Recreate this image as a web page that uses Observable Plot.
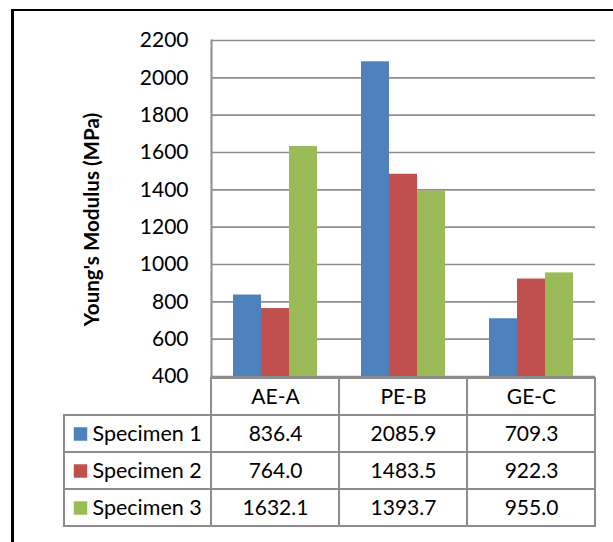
<!DOCTYPE html>
<html>
<head>
<meta charset="utf-8">
<script src="https://cdn.jsdelivr.net/npm/d3@7"></script>
<script src="https://cdn.jsdelivr.net/npm/@observablehq/plot@0.6"></script>
<style>
  body { margin: 0; background: #fff; }
  #wrap { position: relative; width: 613px; height: 542px; overflow: hidden; background: #fff; }
  #frame { position: absolute; left: 11px; top: 9px; width: 700px; height: 700px;
           border-left: 3px solid #000; border-top: 2px solid #000; }
  #wrap svg { position: absolute; left: 0; top: 0; background: transparent; }
</style>
</head>
<body>
<div id="wrap"><div id="frame"></div></div>
<script>
// ---- data ----
const categories = ["AE-A", "PE-B", "GE-C"];
const seriesNames = ["Specimen 1", "Specimen 2", "Specimen 3"];
const specimen1 = [836.4, 2085.9, 709.3];
const specimen2 = [764.0, 1483.5, 922.3];
const specimen3 = [1632.1, 1393.7, 955.0];
const yTicks = [400, 600, 800, 1000, 1200, 1400, 1600, 1800, 2000, 2200];
const yLabel = "Young's Modulus (MPa)";
const colors = ["#4F81BD", "#C0504D", "#9BBB59"];

const seriesValues = [specimen1, specimen2, specimen3];
const rows = [];
seriesValues.forEach((vals, si) => vals.forEach((v, ci) =>
  rows.push({category: categories[ci], series: seriesNames[si], value: v})));

const font = "Lato, 'Open Sans', sans-serif";
const grey = "#8c8c8c";
const W = 613, H = 542;
const wrap = document.getElementById("wrap");

// ---- bar chart ----
const chart = Plot.plot({
  width: W, height: H,
  marginLeft: 211, marginRight: 18, marginTop: 40, marginBottom: 166,
  style: {background: "transparent", fontFamily: font, color: "#000"},
  fx: {domain: categories, padding: 0, axis: null},
  x: {domain: seriesNames, paddingInner: 0, paddingOuter: 0.75, axis: null},
  y: {domain: [yTicks[0], yTicks[yTicks.length - 1]], label: null, axis: null},
  color: {domain: seriesNames, range: colors},
  marks: [
    Plot.gridY(yTicks, {stroke: grey, strokeOpacity: 1, strokeWidth: 1.6}),
    Plot.barY(rows, {fx: "category", x: "series", y1: yTicks[0], y2: "value", fill: "series"}),
    Plot.frame({anchor: "left", facetAnchor: "left", stroke: grey, strokeWidth: 2}),
    Plot.axisY({ticks: yTicks, tickSize: 0, tickPadding: 23, label: null, fontSize: 21, tickFormat: d => String(d)}),
    Plot.text([yLabel], {text: d => d, frameAnchor: "left", facetAnchor: "left", rotate: -90,
                         textAnchor: "middle", dx: -119.5, dy: 11, fontSize: 20.6, fontWeight: "bold", fill: "#000"})
  ]
});
wrap.appendChild(chart);

// ---- data table (values + header) ----
const cellData = [];
categories.forEach((c, ci) => {
  cellData.push({category: c, row: "header", text: c});
  seriesValues.forEach((vals, si) =>
    cellData.push({category: c, row: seriesNames[si], text: vals[ci].toFixed(1)}));
});
const rowDomain = ["header", ...seriesNames];

const table = Plot.plot({
  width: W, height: H,
  marginLeft: 211, marginRight: 18, marginTop: 376, marginBottom: 15,
  style: {background: "transparent", fontFamily: font, color: "#000"},
  x: {domain: categories, padding: 0, axis: null},
  y: {domain: rowDomain, padding: 0, axis: null},
  marks: [
    Plot.cell(cellData, {x: "category", y: "row", fill: "white", stroke: grey, strokeWidth: 2, inset: 0}),
    Plot.text(cellData, {x: "category", y: "row", text: "text", fontSize: 21, fill: "#000"})
  ]
});
wrap.appendChild(table);

// ---- legend column of the table ----
const legend = Plot.plot({
  width: W, height: H,
  marginLeft: 64, marginRight: W - 211, marginTop: 376, marginBottom: 15,
  style: {background: "transparent", fontFamily: font, color: "#000"},
  x: {domain: ["legend"], padding: 0, axis: null},
  y: {domain: rowDomain, padding: 0, axis: null},
  color: {domain: seriesNames, range: colors},
  marks: [
    Plot.cell(seriesNames, {x: () => "legend", y: d => d, fill: "white", stroke: grey, strokeWidth: 2, inset: 0}),
    Plot.dot(seriesNames, {y: d => d, frameAnchor: "left", dx: 16, symbol: "square", r: 7.6, fill: d => d, stroke: null}),
    Plot.text(seriesNames, {y: d => d, frameAnchor: "left", dx: 28, textAnchor: "start", fontSize: 21.5, fill: "#000"})
  ]
});
wrap.appendChild(legend);
</script>
</body>
</html>
